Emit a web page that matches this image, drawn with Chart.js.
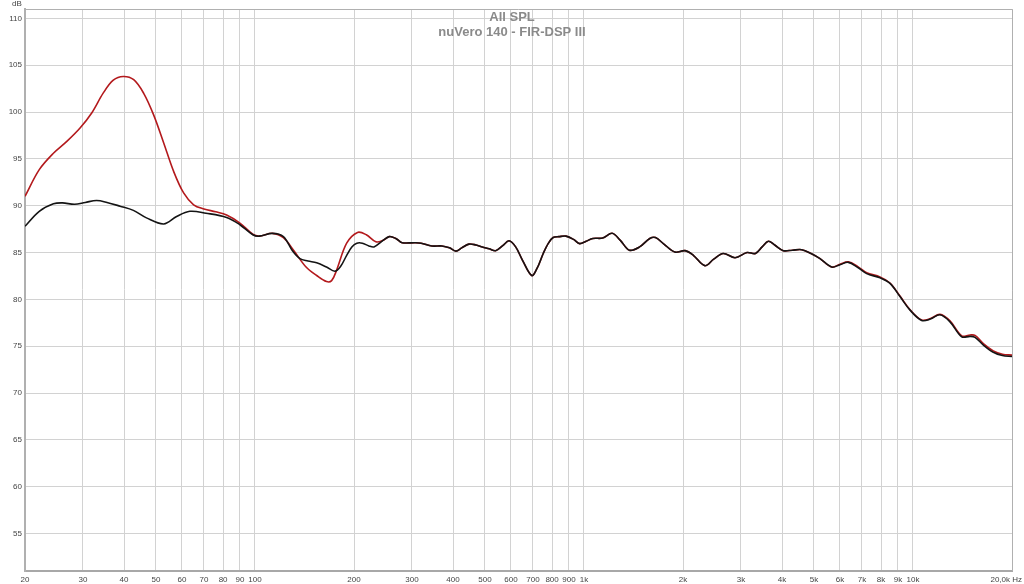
<!DOCTYPE html>
<html>
<head>
<meta charset="utf-8">
<script src="https://cdn.jsdelivr.net/npm/chart.js@4/dist/chart.umd.min.js"></script>
<style>
html,body{margin:0;padding:0;background:#fff;}
#wrap{position:relative;width:1024px;height:584px;}
</style>
</head>
<body>
<div id="wrap"><canvas id="c" width="1024" height="584"></canvas></div>
<script>
const titleLines = ['All SPL', 'nuVero 140 - FIR-DSP III'];
const xTickValues = [20,30,40,50,60,70,80,90,100,200,300,400,500,600,700,800,900,1000,2000,3000,4000,5000,6000,7000,8000,9000,10000,20000];
const xTickLabels = ['20','30','40','50','60','70','80','90','100','200','300','400','500','600','700','800','900','1k','2k','3k','4k','5k','6k','7k','8k','9k','10k','20,0k Hz'];
const yTickValues = [55,60,65,70,75,80,85,90,95,100,105,110];
const yUnit = 'dB';

const freqBlack = [20,22.1,24.4,26,28.3,30.5,33,35.5,38.9,42.7,46.8,52.8,57.8,63.4,71,82,90,98.5,103,113,122,130,137,145,154,165,175,182,190,197,204,212,222,230,243,256,268,280,307,320,345,370,390,408,425,447,470,491,515,539,565,592,620,650,694,720,752,780,806,840,882,930,970,1015,1064,1140,1218,1290,1374,1476,1585,1650,1750,1890,2030,2150,2330,2480,2650,2880,3130,3320,3480,3634,3800,4036,4300,4590,4900,5218,5662,6000,6362,6800,7234,7940,8514,9132,9797,10630,11300,12080,12960,14070,14910,15440,16400,17550,18700,20000];
const splBlack = [87.8,89.4,90.2,90.3,90.15,90.35,90.55,90.35,89.95,89.5,88.7,88.05,88.85,89.4,89.2,88.75,87.97,86.9,86.75,87.05,86.7,85.2,84.35,84.1,83.9,83.45,83.0,83.5,84.7,85.6,86.0,86.0,85.7,85.6,86.2,86.7,86.5,86.05,86.05,86.0,85.7,85.7,85.5,85.15,85.5,85.9,85.8,85.6,85.4,85.2,85.7,86.25,85.6,84.2,82.55,83.3,84.9,86.0,86.6,86.7,86.75,86.4,85.95,86.2,86.5,86.55,87.05,86.3,85.25,85.6,86.5,86.6,85.9,85.05,85.2,84.7,83.6,84.3,84.9,84.45,85.0,84.9,85.6,86.2,85.8,85.2,85.25,85.3,84.9,84.35,83.45,83.7,83.95,83.4,82.75,82.3,81.7,80.3,78.85,77.75,77.9,78.35,77.6,76.0,76.05,75.95,75.1,74.35,74.0,73.9];

const freqRed = [20,22.1,24.4,26.8,29.4,31.9,34.6,37.1,39.8,42.8,45.9,49.2,52.8,56.6,60.7,65.1,70,76,82,90,98.5,103,113,122,131,143,154,165,171,177,190,205,218,233,245,256,268,280,307,320,345,370,390,408,425,447,470,491,515,539,565,592,620,650,694,720,752,780,806,840,882,930,970,1015,1064,1140,1218,1290,1374,1476,1585,1650,1750,1890,2030,2150,2330,2480,2650,2880,3130,3320,3480,3634,3800,4036,4300,4590,4900,5218,5662,6000,6362,6800,7234,7940,8514,9132,9797,10630,11300,12080,12960,14070,14910,15440,16400,17550,18700,20000];
const splRed = [91.0,93.85,95.6,96.87,98.3,99.9,102.04,103.4,103.8,103.45,102.0,99.7,96.7,93.66,91.36,90.1,89.65,89.35,89.0,88.15,86.95,86.75,87.05,86.6,85.25,83.45,82.55,81.9,82.0,83.1,86.0,87.15,86.9,86.15,86.3,86.7,86.5,86.05,86.05,86.0,85.7,85.7,85.5,85.15,85.5,85.9,85.8,85.6,85.4,85.2,85.7,86.25,85.6,84.2,82.55,83.3,84.9,86.0,86.6,86.7,86.75,86.4,85.95,86.2,86.5,86.55,87.05,86.3,85.25,85.6,86.5,86.6,85.9,85.05,85.2,84.7,83.6,84.3,84.9,84.45,85.0,84.9,85.6,86.2,85.8,85.2,85.25,85.3,84.9,84.35,83.45,83.75,84.0,83.5,82.85,82.4,81.75,80.35,78.9,77.8,77.95,78.4,77.7,76.1,76.2,76.15,75.25,74.5,74.15,74.05];

const toPts = (fs, vs) => fs.map((f, i) => ({x: f, y: vs[i]}));

const overlay = {
  id: 'overlay',
  afterDraw(chart) {
    const ctx = chart.ctx, a = chart.chartArea;
    ctx.save();
    ctx.strokeStyle = '#b0b0b0';
    ctx.lineWidth = 1;
    ctx.beginPath();
    ctx.moveTo(a.left, a.top + 0.5); ctx.lineTo(a.right + 0.5, a.top + 0.5);
    ctx.lineTo(a.right + 0.5, a.bottom);
    ctx.stroke();
    ctx.fillStyle = '#8a8a8a';
    ctx.font = 'bold 13px "Liberation Sans", Arial, sans-serif';
    ctx.textAlign = 'center';
    ctx.textBaseline = 'alphabetic';
    ctx.fillText(titleLines[0], 512, 21);
    ctx.fillText(titleLines[1], 512, 36);
    ctx.fillStyle = '#444';
    ctx.font = '8px "Liberation Sans", Arial, sans-serif';
    ctx.textAlign = 'center';
    ctx.textBaseline = 'middle';
    ctx.fillText(yUnit, 17, 4);
    ctx.textAlign = 'right';
    ctx.textBaseline = 'top';
    ctx.fillText(xTickLabels[xTickLabels.length - 1], 1022, a.bottom + 5);
    ctx.restore();
  }
};

new Chart(document.getElementById('c'), {
  type: 'line',
  data: {
    datasets: [
      {label: 'black', data: toPts(freqBlack, splBlack), borderColor: '#141414', borderWidth: 1.6,
       pointRadius: 0, tension: 0.35, fill: false, order: 0},
      {label: 'red', data: toPts(freqRed, splRed), borderColor: '#b3191c', borderWidth: 1.6,
       pointRadius: 0, tension: 0.35, fill: false, order: 1}
    ]
  },
  options: {
    responsive: false,
    animation: false,
    devicePixelRatio: 1,
    layout: {padding: {top: 9, right: 12, left: 0, bottom: 0}},
    plugins: {legend: {display: false}, tooltip: {enabled: false}, title: {display: false}},
    scales: {
      x: {
        type: 'logarithmic', min: 20, max: 20000,
        afterBuildTicks: s => { s.ticks = xTickValues.map(v => ({value: v})); },
        afterFit: s => { s.height = 13; },
        ticks: {
          autoSkip: false, maxRotation: 0, minRotation: 0, padding: 4, color: '#444',
          font: {size: 8, family: '"Liberation Sans", Arial, sans-serif'},
          callback: (v) => { const i = xTickValues.indexOf(v); return (i < 0 || i === xTickValues.length - 1) ? '' : xTickLabels[i]; }
        },
        grid: {color: '#d2d2d2', lineWidth: 1, drawTicks: false},
        border: {color: '#a8a8a8', width: 2}
      },
      y: {
        min: 51, max: 111,
        afterBuildTicks: s => { s.ticks = yTickValues.map(v => ({value: v})); },
        afterFit: s => { s.width = 25; },
        ticks: {
          padding: 3, color: '#444',
          font: {size: 8, family: '"Liberation Sans", Arial, sans-serif'},
          callback: v => String(v)
        },
        grid: {color: '#d2d2d2', lineWidth: 1, drawTicks: false},
        border: {color: '#b0b0b0', width: 2}
      }
    }
  },
  plugins: [overlay]
});
</script>
</body>
</html>
